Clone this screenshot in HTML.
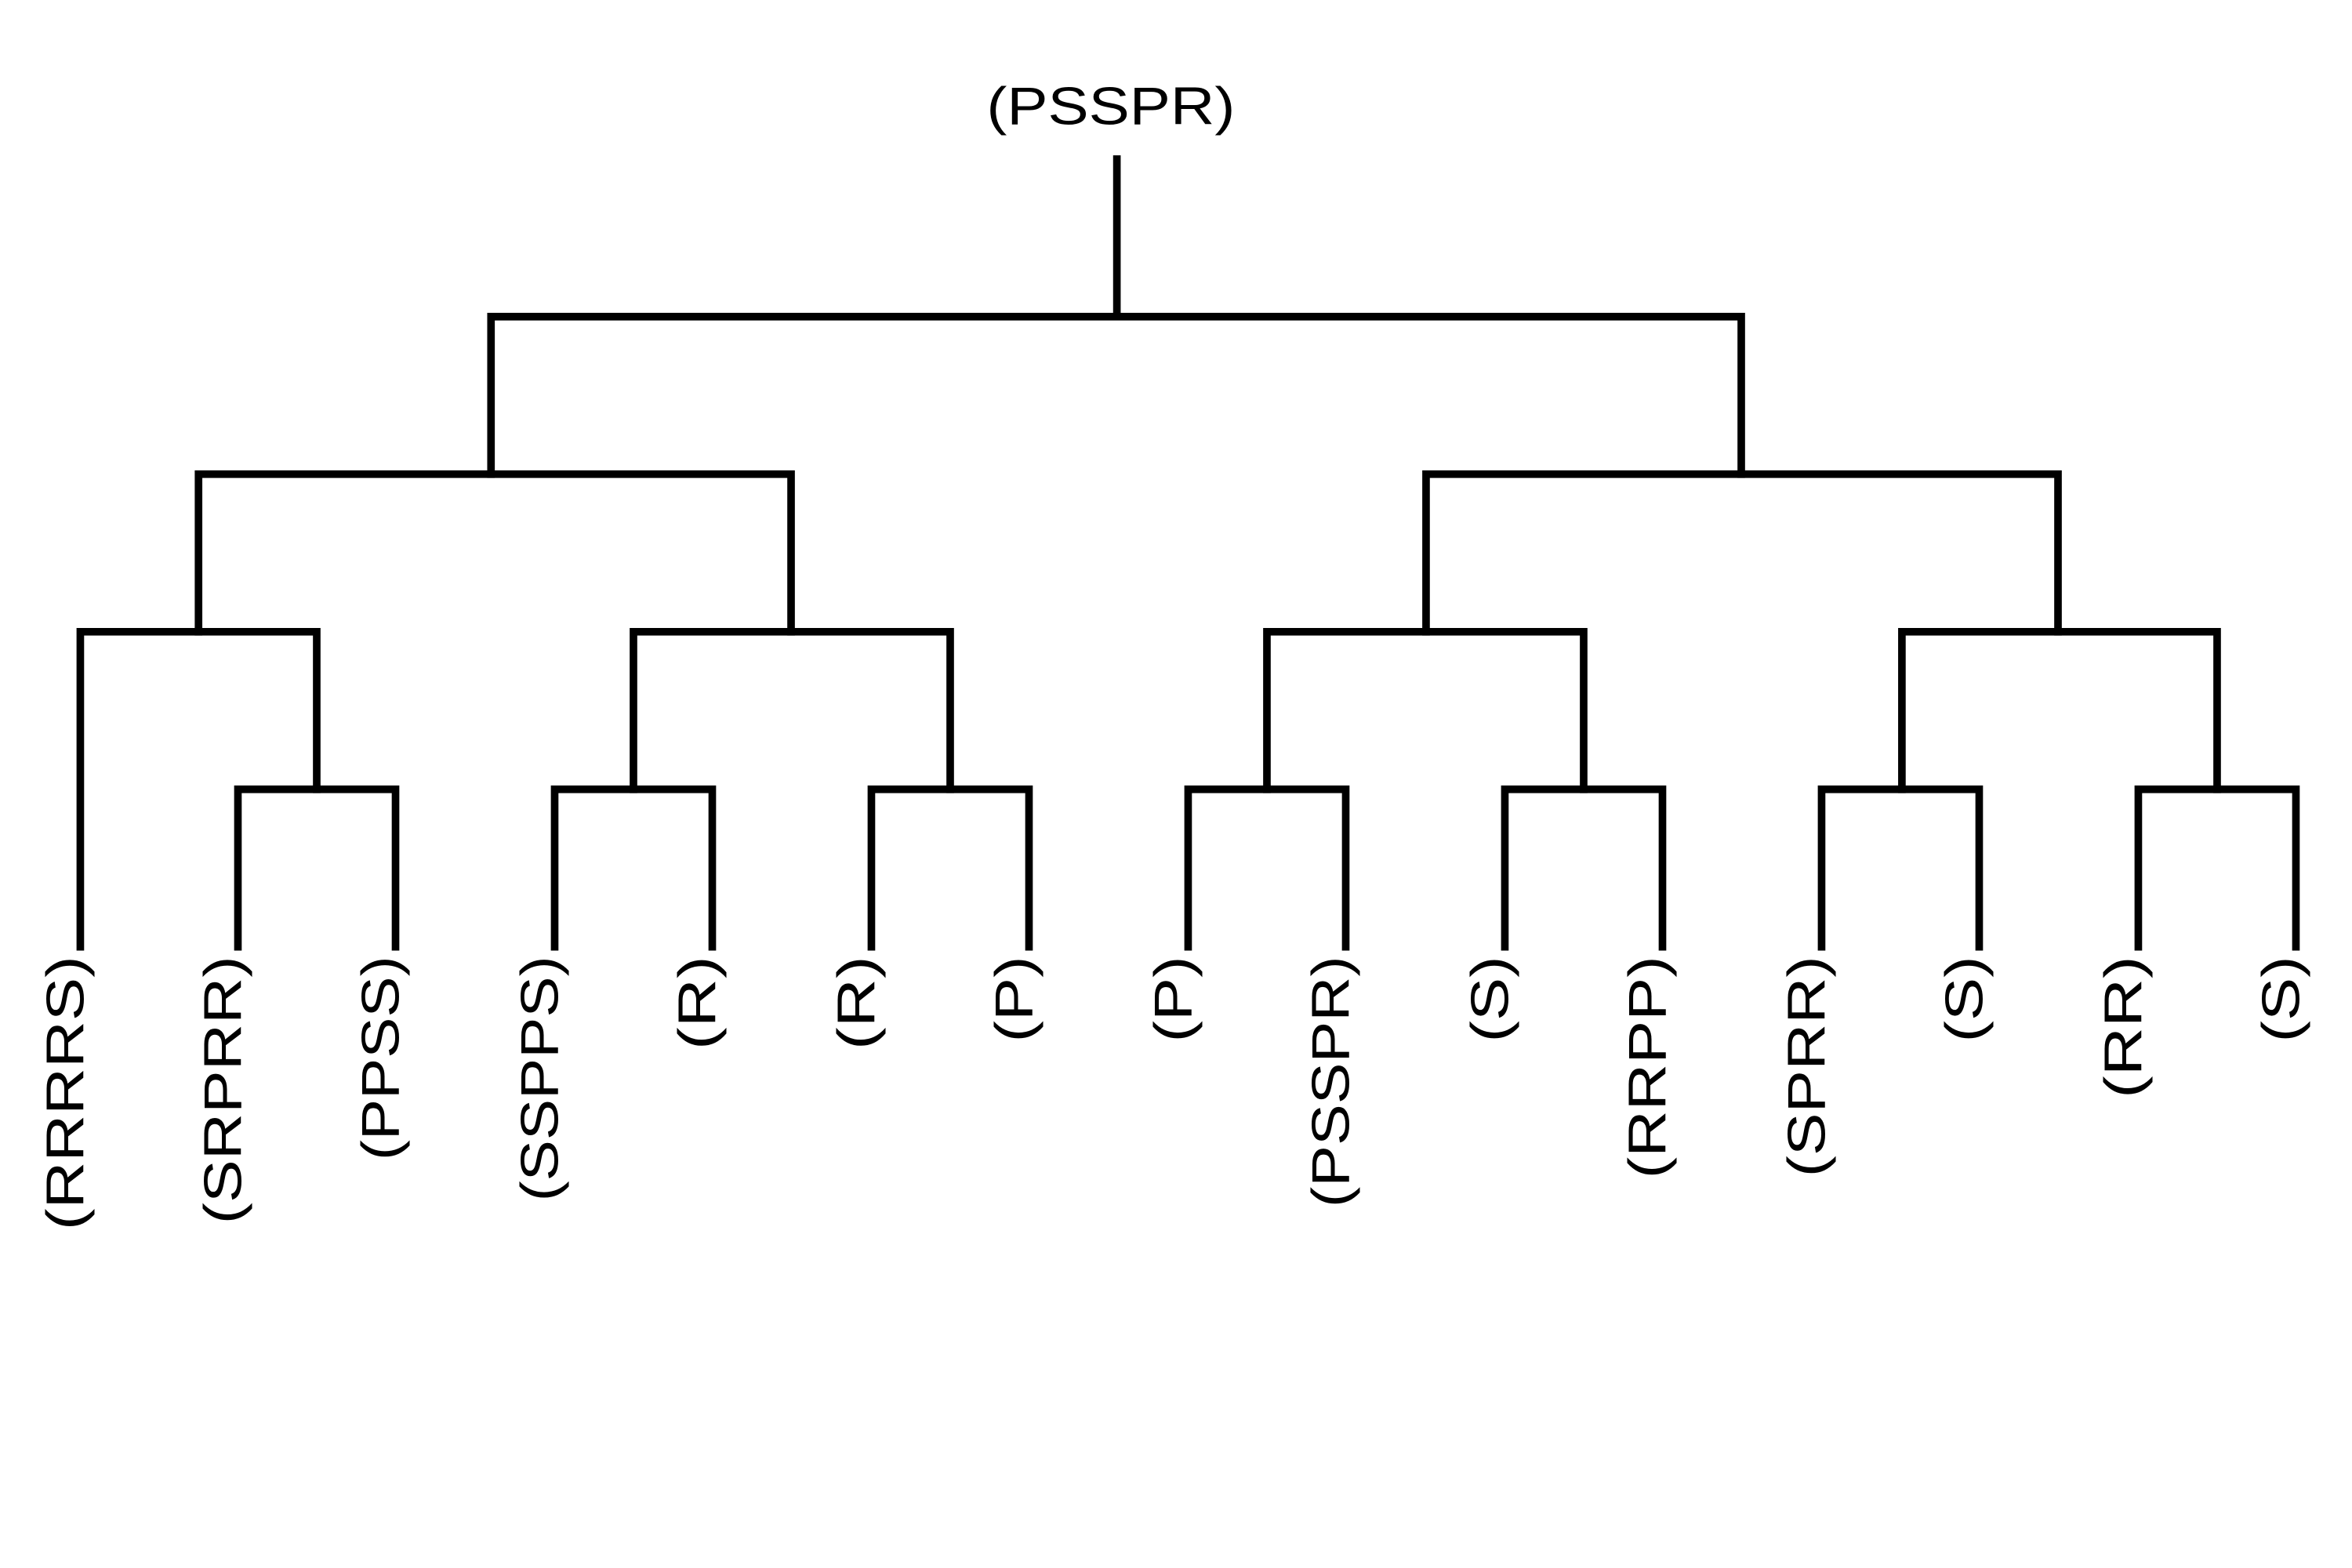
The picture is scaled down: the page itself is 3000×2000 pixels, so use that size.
<!DOCTYPE html>
<html><head><meta charset="utf-8"><style>html,body{margin:0;padding:0;background:#fff}svg{display:block}</style></head>
<body>
<svg width="3000" height="2000" viewBox="0 0 1552 1035" preserveAspectRatio="none" xmlns="http://www.w3.org/2000/svg">
<g stroke="#000" stroke-width="5" fill="none" stroke-linecap="square">
<path d="M737 105V209M324 313V209H1149V313"/>
<path d="M131 417V313H522V417M941 417V313H1358V417"/>
<path d="M53 625V417H209V521M418 521V417H627V521M836 521V417H1045V521M1255 521V417H1463V521"/>
<path d="M157 625V521H261V625M366 625V521H470V625M575 625V521H679V625M784 625V521H888V625M993 625V521H1097V625M1202 625V521H1306V625M1411 625V521H1515V625"/>
</g>
<g font-family="Liberation Sans, sans-serif" font-size="35" fill="#000">
<text x="651" y="82" textLength="164" lengthAdjust="spacingAndGlyphs">(PSSPR)</text>
<g text-anchor="end">
<text transform="translate(55,631) rotate(-90)" textLength="181" lengthAdjust="spacingAndGlyphs">(RRRRS)</text>
<text transform="translate(159,631) rotate(-90)" textLength="177" lengthAdjust="spacingAndGlyphs">(SRPRR)</text>
<text transform="translate(263,631) rotate(-90)" textLength="135" lengthAdjust="spacingAndGlyphs">(PPSS)</text>
<text transform="translate(368,631) rotate(-90)" textLength="162" lengthAdjust="spacingAndGlyphs">(SSPPS)</text>
<text transform="translate(472,631) rotate(-90)" textLength="62" lengthAdjust="spacingAndGlyphs">(R)</text>
<text transform="translate(577,631) rotate(-90)" textLength="62" lengthAdjust="spacingAndGlyphs">(R)</text>
<text transform="translate(681,631) rotate(-90)" textLength="57" lengthAdjust="spacingAndGlyphs">(P)</text>
<text transform="translate(786,631) rotate(-90)" textLength="57" lengthAdjust="spacingAndGlyphs">(P)</text>
<text transform="translate(890,631) rotate(-90)" textLength="166" lengthAdjust="spacingAndGlyphs">(PSSPR)</text>
<text transform="translate(995,631) rotate(-90)" textLength="57" lengthAdjust="spacingAndGlyphs">(S)</text>
<text transform="translate(1099,631) rotate(-90)" textLength="147" lengthAdjust="spacingAndGlyphs">(RRPP)</text>
<text transform="translate(1204,631) rotate(-90)" textLength="146" lengthAdjust="spacingAndGlyphs">(SPRR)</text>
<text transform="translate(1308,631) rotate(-90)" textLength="57" lengthAdjust="spacingAndGlyphs">(S)</text>
<text transform="translate(1413,631) rotate(-90)" textLength="94" lengthAdjust="spacingAndGlyphs">(RR)</text>
<text transform="translate(1517,631) rotate(-90)" textLength="57" lengthAdjust="spacingAndGlyphs">(S)</text>
</g>
</g>
</svg>
</body></html>
